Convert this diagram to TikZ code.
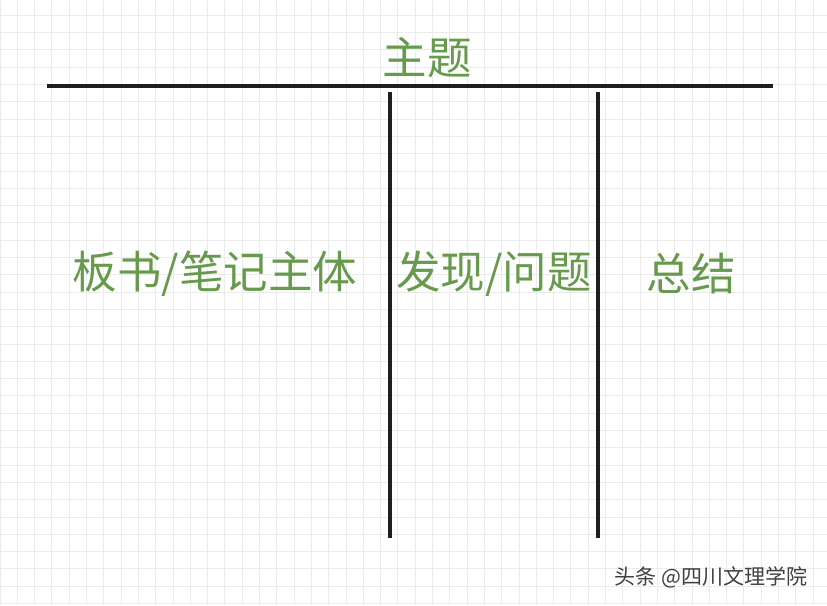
\documentclass[tikz,border=0pt]{standalone}
\usepackage{fontspec}
\newfontfamily\cjk{Noto Sans CJK SC}
\definecolor{notegreen}{HTML}{679A4C}
\definecolor{gridgray}{HTML}{EBEBEB}
\tikzset{
  label/.style={font=\cjk\fontsize{44.5}{44.5}\selectfont, text=notegreen, inner sep=0pt},
  rule/.style={line width=3.4pt, black!88},
}
\begin{document}
\begin{tikzpicture}[x=1pt,y=-1pt]
        % paper and grid
        \useasboundingbox (0,0) rectangle (827,605);
        \fill[white] (0,0) rectangle (827,605);
        \draw[gridgray, line width=0.9pt, shift={(0,-2)}] (0,0) grid[step=17.3pt] (827,607);
        % title line and columns
        \coordinate (lineL) at (47,86);
        \coordinate (lineR) at (773,86);
        \draw[rule] (lineL) -- (lineR);
        \coordinate (colAtop) at (390,92);
        \coordinate (colAbot) at (390,538);
        \coordinate (colBtop) at (598,92);
        \coordinate (colBbot) at (598,538);
        \draw[rule] (colAtop) -- (colAbot);
        \draw[rule] (colBtop) -- (colBbot);
        % texts
        \node[label] (title) at (427,58) {主题};
        \node[label] (main) at (215,274) {板书/笔记主体};
        \node[label] (issue) at (494,274) {发现/问题};
        \node[label] (summary) at (691,274) {总结};
        \node[font=\cjk\fontsize{21}{21}\selectfont, text=black!75, anchor=east] (mark) at (811,577) {头条 @四川文理学院};
    \end{tikzpicture}
\end{document}
